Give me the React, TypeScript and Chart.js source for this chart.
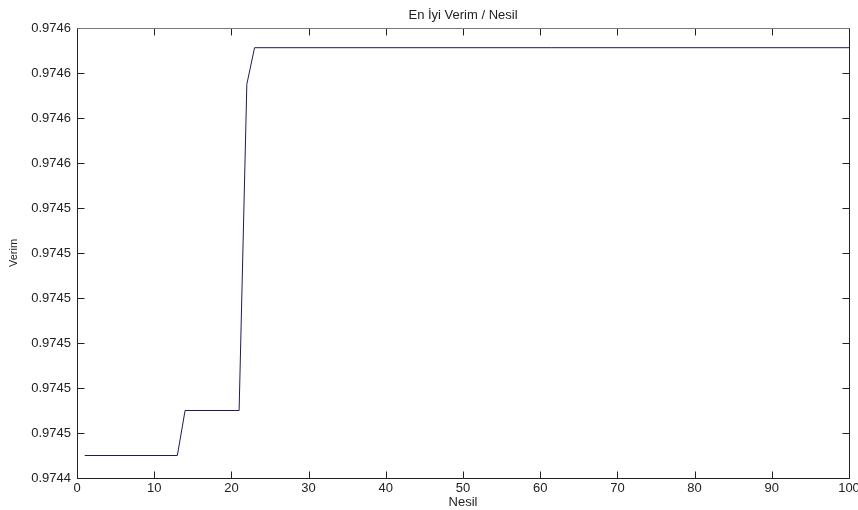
import { useEffect, useRef } from "react";
import { Chart, registerables } from "chart.js";

Chart.register(...registerables);

const chartTitle = "En İyi Verim / Nesil";
const xAxisTitle = "Nesil";
const yAxisTitle = "Verim";

// breakpoints of the best-fitness staircase (generation -> best value)
const generations = [1, 13, 14, 21, 22, 23, 100];
const bestFitness = [0.974448, 0.974448, 0.974464, 0.974464, 0.97458, 0.974593, 0.974593];

const xTickValues = [0, 10, 20, 30, 40, 50, 60, 70, 80, 90, 100];
const yTickValues = [
  0.97444, 0.974456, 0.974472, 0.974488, 0.974504, 0.97452, 0.974536, 0.974552, 0.974568, 0.974584, 0.9746,
];
const yTickLabels = [
  "0.9744", "0.9745", "0.9745", "0.9745", "0.9745", "0.9745", "0.9745", "0.9746", "0.9746", "0.9746", "0.9746",
];

const FONT = "'Liberation Sans', Arial, sans-serif";

const boxPlugin = {
  id: "matlabBox",
  afterDraw(chart: any) {
    const { ctx, chartArea } = chart;
    const { left, right, top, bottom } = chartArea;
    const xs = chart.scales.x;
    const ys = chart.scales.y;
    const tl = 7;
    const L = Math.round(left) + 0.5;
    const R = Math.round(right) + 0.5;
    const T = Math.round(top) + 0.5;
    const B = Math.round(bottom) + 0.5;
    ctx.save();
    ctx.lineWidth = 1;
    ctx.strokeStyle = "#222";
    ctx.beginPath();
    xs.ticks.forEach((t: any) => {
      const px = Math.round(xs.getPixelForValue(t.value)) + 0.5;
      ctx.moveTo(px, B);
      ctx.lineTo(px, B - tl);
      ctx.moveTo(px, T);
      ctx.lineTo(px, T + tl);
    });
    ys.ticks.forEach((t: any) => {
      const py = Math.round(ys.getPixelForValue(t.value)) + 0.5;
      ctx.moveTo(L, py);
      ctx.lineTo(L + tl, py);
      ctx.moveTo(R, py);
      ctx.lineTo(R - tl, py);
    });
    ctx.stroke();
    ctx.beginPath();
    ctx.moveTo(L, T);
    ctx.lineTo(L, B);
    ctx.lineTo(R, B);
    ctx.lineTo(R, T);
    ctx.stroke();
    ctx.strokeStyle = "#7a7a7a";
    ctx.beginPath();
    ctx.moveTo(L, T);
    ctx.lineTo(R, T);
    ctx.stroke();
    ctx.fillStyle = "#222";
    ctx.font = `13px ${FONT}`;
    ctx.textAlign = "center";
    ctx.textBaseline = "middle";
    ctx.fillText(chartTitle, (left + right) / 2, 15);
    ctx.restore();
  },
};

export default function App() {
  const ref = useRef<HTMLCanvasElement | null>(null);
  useEffect(() => {
    if (!ref.current) return;
    const chart = new Chart(ref.current, {
      type: "line",
      data: {
        datasets: [
          {
            data: generations.map((g, i) => ({ x: g, y: bestFitness[i] })),
            borderColor: "#1c1c55",
            borderWidth: 1,
            pointRadius: 0,
            tension: 0,
            fill: false,
          },
        ],
      },
      options: {
        animation: false,
        responsive: false,
        devicePixelRatio: 1,
        layout: { padding: { top: 28, right: 9, left: 0, bottom: 0 } },
        plugins: { legend: { display: false }, tooltip: { enabled: false }, title: { display: false } },
        scales: {
          x: {
            type: "linear",
            min: 0,
            max: 100,
            afterBuildTicks: (s: any) => {
              s.ticks = xTickValues.map((v) => ({ value: v }));
            },
            afterFit: (s: any) => {
              s.height = 32;
              s.paddingLeft = 0;
              s.paddingRight = 0;
            },
            grid: { display: false, drawTicks: false },
            border: { display: false },
            ticks: {
              padding: 3,
              color: "#222",
              font: { family: FONT, size: 13 },
              maxRotation: 0,
              autoSkip: false,
            },
            title: {
              display: true,
              text: xAxisTitle,
              color: "#222",
              font: { family: FONT, size: 13 },
              padding: { top: 0, bottom: 0 },
            },
          },
          y: {
            type: "linear",
            min: yTickValues[0],
            max: yTickValues[yTickValues.length - 1],
            afterBuildTicks: (s: any) => {
              s.ticks = yTickValues.map((v) => ({ value: v }));
            },
            afterFit: (s: any) => {
              s.width = 77;
              s.paddingTop = 0;
              s.paddingBottom = 0;
            },
            grid: { display: false, drawTicks: false },
            border: { display: false },
            ticks: {
              padding: 6,
              color: "#222",
              font: { family: FONT, size: 13 },
              autoSkip: false,
              callback: (_v: any, i: number) => yTickLabels[i],
            },
            title: {
              display: true,
              text: yAxisTitle,
              color: "#222",
              font: { family: FONT, size: 11 },
              padding: { top: 7, bottom: 0 },
            },
          },
        },
      },
      plugins: [boxPlugin],
    });
    return () => chart.destroy();
  }, []);
  return (
    <div style={{ position: "absolute", left: 0, top: 0, width: 858, height: 510, background: "#fff" }}>
      <canvas ref={ref} width={858} height={510} style={{ display: "block" }} />
    </div>
  );
}
